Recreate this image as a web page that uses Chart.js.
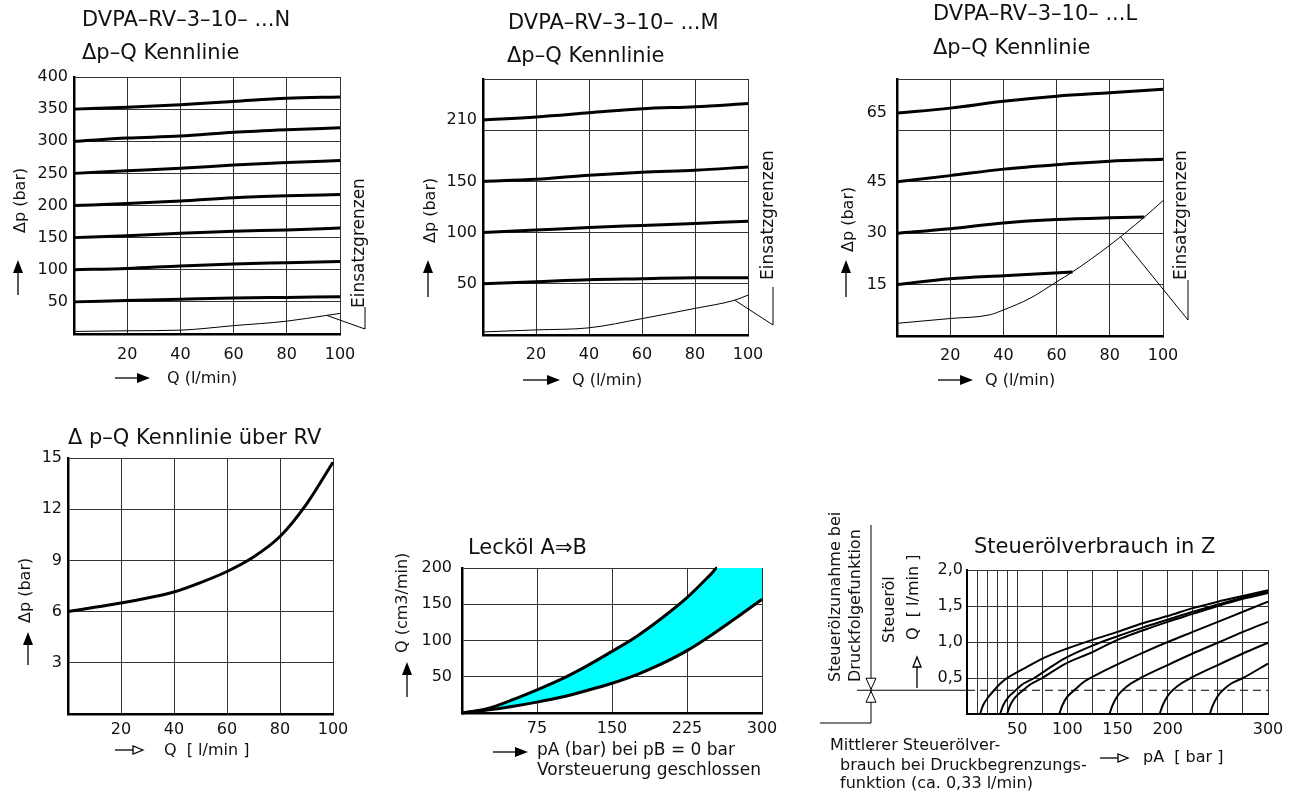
<!DOCTYPE html>
<html>
<head>
<meta charset="utf-8">
<script src="https://cdn.jsdelivr.net/npm/chart.js@4.4.1/dist/chart.umd.min.js"></script>
<style>
  body { margin: 0; width: 1290px; height: 796px; position: relative; overflow: hidden; background: #fff;
         font-family: 'DejaVu Sans', sans-serif; color: #111; }
  canvas { position: absolute; }
  .t { position: absolute; white-space: pre; line-height: 1; z-index: 10; }
  .r { transform-origin: 0 0; transform: rotate(-90deg); }
</style>
</head>
<body>
<canvas id="deko" width="1290" height="796" style="left:0;top:0;z-index:5"></canvas>
<script>
// ---- DVPA-RV-3-10- ...N ----
const qN = [0, 20, 40, 60, 80, 100];
const dpN50 = [50, 52, 54, 56, 57, 58];
const dpN100 = [100, 102, 106, 109, 111, 113];
const dpN150 = [150, 153, 157, 160, 162, 165];
const dpN200 = [200, 203, 207, 212, 215, 217];
const dpN250 = [250, 254, 258, 263, 267, 270];
const dpN300 = [300, 305, 308, 314, 318, 321];
const dpN350 = [350, 353, 357, 362, 367, 369];
const qGrenzeN = [0, 20, 40, 60, 80, 95, 100];
const dpGrenzeN = [4, 5, 6, 13, 20, 29, 32];
const yTicksN = [0, 50, 100, 150, 200, 250, 300, 350, 400];

// ---- DVPA-RV-3-10- ...M ----
const qM = [0, 20, 40, 60, 80, 100];
const dpM50 = [50, 52, 54, 55, 56, 56];
const dpM100 = [100, 102.5, 105, 107, 109, 111];
const dpM150 = [150, 152, 156, 159, 161, 164];
const dpM210 = [210, 213, 217, 221, 223, 226];
const qGrenzeM = [0, 20, 40, 60, 80, 95, 100];
const dpGrenzeM = [3, 5, 7, 16, 26, 34, 39];
const yTicksM = [0, 50, 100, 150, 200, 210, 250];
const yLabelsM = [50, 100, 150, 210];

// ---- DVPA-RV-3-10- ...L ----
const qL = [0, 20, 40, 60, 80, 100];
const dpL65 = [65, 66.5, 68.5, 70, 71, 72];
const dpL45 = [45, 46.8, 48.7, 50, 51, 51.6];
const qL30 = [0, 20, 40, 60, 80, 93];
const dpL30 = [30, 31.3, 33, 34, 34.5, 34.7];
const qL15 = [0, 20, 40, 66];
const dpL15 = [15, 16.7, 17.6, 18.7];
const qGrenzeL = [0, 20, 35, 40, 50, 60, 66, 80, 93, 100];
const dpGrenzeL = [3.7, 5.1, 6.2, 7.6, 11, 15.8, 18.7, 26.5, 34.7, 39.5];
const yTicksL = [0, 15, 30, 45, 60, 65, 75];
const yLabelsL = [15, 30, 45, 65];

// ---- Δp-Q Kennlinie über RV ----
const qRV = [0, 10, 20, 30, 40, 50, 60, 70, 80, 90, 100];
const dpRV = [6, 6.25, 6.5, 6.8, 7.15, 7.7, 8.35, 9.2, 10.4, 12.3, 14.75];
const yTicksRV = [0, 3, 6, 9, 12, 15];

const qTicks = [0, 20, 40, 60, 80, 100];
const qLabels = [20, 40, 60, 80, 100];

// ---- Lecköl A => B ----
const pLeckOben = [0, 25, 50, 75, 100, 125, 150, 175, 200, 225, 250, 255, 300];
const qLeckOben = [0, 6, 18, 32, 47, 65, 85, 106, 131, 159, 193, 200, 200];
const pLeckUnten = [0, 25, 50, 75, 100, 125, 150, 175, 200, 225, 250, 275, 300];
const qLeckUnten = [0, 4, 9, 15, 22, 31, 41, 53, 68, 86, 108, 132, 157];
const pTicksLeck = [0, 75, 150, 225, 300];
const qTicksLeck = [0, 50, 100, 150, 200];

// ---- Steuerölverbrauch in Z ----
const pS1 = [13, 16, 21, 27, 33, 40, 50, 63, 80, 100, 125, 150, 175, 200, 225, 250, 275, 300];
const qS1 = [0, 0.12, 0.23, 0.33, 0.42, 0.5, 0.58, 0.68, 0.80, 0.91, 1.03, 1.14, 1.26, 1.36, 1.47, 1.56, 1.64, 1.72];
const pS2 = [33, 36, 41, 47, 55, 67, 80, 97, 125, 150, 175, 200, 225, 250, 275, 300];
const qS2 = [0, 0.12, 0.23, 0.31, 0.41, 0.5, 0.62, 0.77, 0.95, 1.08, 1.20, 1.31, 1.42, 1.52, 1.62, 1.70];
const pS3 = [40, 43, 48, 55, 63, 75, 97, 125, 150, 175, 200, 225, 250, 275, 300];
const qS3 = [0, 0.12, 0.23, 0.32, 0.41, 0.5, 0.69, 0.86, 1.03, 1.16, 1.28, 1.39, 1.50, 1.60, 1.68];
const pS4 = [92, 95, 100, 107, 115, 123, 150, 175, 200, 225, 250, 275, 300];
const qS4 = [0, 0.12, 0.24, 0.33, 0.43, 0.5, 0.69, 0.85, 1.0, 1.14, 1.28, 1.42, 1.56];
const pS5 = [142, 145, 150, 155, 163, 173, 200, 225, 250, 275, 300];
const qS5 = [0, 0.12, 0.25, 0.33, 0.42, 0.5, 0.68, 0.84, 0.99, 1.14, 1.28];
const pS6 = [192, 195, 200, 205, 213, 223, 250, 275, 300];
const qS6 = [0, 0.12, 0.25, 0.33, 0.42, 0.5, 0.68, 0.84, 0.99];
const pS7 = [242, 245, 250, 255, 263, 275, 300];
const qS7 = [0, 0.12, 0.25, 0.33, 0.42, 0.5, 0.70];
const qMittel = 0.33;
const pTicksS = [0, 10, 20, 30, 40, 50, 75, 100, 125, 150, 175, 200, 225, 250, 275, 300];
const pLabelsS = [50, 100, 150, 200, 300];
const qTicksS = [0, 0.5, 1, 1.5, 2];

Chart.defaults.font.family = "'DejaVu Sans', sans-serif";
Chart.defaults.font.size = 16;
Chart.defaults.color = '#111';

function kurve(xs, ys, breite, extra) {
  return Object.assign({
    data: xs.map((x, i) => ({ x: x, y: ys[i] })),
    borderColor: '#000', borderWidth: breite, pointRadius: 0,
    tension: 0.4, cubicInterpolationMode: 'monotone', fill: false, clip: 6
  }, extra || {});
}

function achse(cfg, istX) {
  return {
    type: 'linear', min: cfg.min, max: cfg.max,
    afterBuildTicks: s => { s.ticks = cfg.ticks.map(v => ({ value: v })); },
    afterFit: s => { if (istX) s.height = 40; else s.width = 60; },
    ticks: {
      autoSkip: false, maxRotation: 0, padding: cfg.pad, color: '#111', font: { size: 16 },
      callback: v => cfg.labels.includes(v) ? (cfg.fmt ? cfg.fmt(v) : String(v)) : ''
    },
    grid: {
      drawTicks: false, lineWidth: 1,
      color: c => (cfg.ohneLinie && c.tick && cfg.ohneLinie.includes(c.tick.value)) ? 'rgba(0,0,0,0)' : '#333'
    },
    border: { color: '#000', width: cfg.rand || 2.5 }
  };
}

// box = Zeichenfläche in Seitenpixeln; Ränder groß genug, damit die Beschriftung nichts verschiebt
const RAND_OBEN = 26, RAND_RECHTS = 36, ACHSE_Y = 60, ACHSE_X = 40;
function diagramm(box, xa, ya, datasets) {
  const padL = box.padL || 0;
  const c = document.createElement('canvas');
  const left = box.l - ACHSE_Y - padL, top = box.t - RAND_OBEN;
  const w = box.r - box.l + ACHSE_Y + padL + RAND_RECHTS, h = box.b - box.t + RAND_OBEN + ACHSE_X;
  c.width = w; c.height = h;
  c.style.left = left + 'px'; c.style.top = top + 'px';
  c.style.width = w + 'px'; c.style.height = h + 'px';
  document.body.appendChild(c);
  return new Chart(c, {
    type: 'line',
    data: { datasets: datasets },
    options: {
      responsive: false, animation: false, events: [],
      layout: { autoPadding: false, padding: { left: padL, top: RAND_OBEN, right: RAND_RECHTS, bottom: 0 } },
      plugins: { legend: { display: false }, tooltip: { enabled: false }, filler: { drawTime: 'beforeDatasetsDraw' } },
      scales: { x: achse(xa, true), y: achse(ya, false) }
    }
  });
}

const achseQ = (pad) => ({ min: 0, max: 100, ticks: qTicks, labels: qLabels, pad: pad });

const chartN = diagramm({ l: 74, t: 77, r: 340, b: 334 }, achseQ(11),
  { min: 0, max: 400, ticks: yTicksN, labels: yTicksN.slice(1), pad: 6 },
  [kurve(qN, dpN50, 3), kurve(qN, dpN100, 3), kurve(qN, dpN150, 3), kurve(qN, dpN200, 3),
   kurve(qN, dpN250, 3), kurve(qN, dpN300, 3), kurve(qN, dpN350, 3), kurve(qGrenzeN, dpGrenzeN, 1)]);

const chartM = diagramm({ l: 483, t: 79, r: 748, b: 335 }, achseQ(10),
  { min: 0, max: 250, ticks: yTicksM, labels: yLabelsM, ohneLinie: [210], pad: 6 },
  [kurve(qM, dpM50, 3), kurve(qM, dpM100, 3), kurve(qM, dpM150, 3), kurve(qM, dpM210, 3),
   kurve(qGrenzeM, dpGrenzeM, 1)]);

const chartL = diagramm({ l: 897, t: 79, r: 1163, b: 336 }, achseQ(10),
  { min: 0, max: 75, ticks: yTicksL, labels: yLabelsL, ohneLinie: [65], pad: 10 },
  [kurve(qL, dpL65, 3), kurve(qL, dpL45, 3), kurve(qL30, dpL30, 3), kurve(qL15, dpL15, 3),
   kurve(qGrenzeL, dpGrenzeL, 1, { tension: 0.3 })]);

const chartRV = diagramm({ l: 68, t: 458, r: 333, b: 714 }, achseQ(6),
  { min: 0, max: 15, ticks: yTicksRV, labels: yTicksRV.slice(1), pad: 6 },
  [kurve(qRV, dpRV, 3)]);

const chartLeck = diagramm({ l: 462, t: 568, r: 762, b: 713 },
  { min: 0, max: 300, ticks: pTicksLeck, labels: pTicksLeck.slice(1), pad: 6 },
  { min: 0, max: 200, ticks: qTicksLeck, labels: qTicksLeck.slice(1), pad: 10 },
  [kurve(pLeckOben, qLeckOben, 3, {
     fill: '+1', backgroundColor: '#00ffff',
     segment: { borderColor: s => s.p0.parsed.x >= 255 ? 'rgba(0,0,0,0)' : '#000' } }),
   kurve(pLeckUnten, qLeckUnten, 3)]);

const komma = v => v.toFixed(1).replace('.', ',');
const chartS = diagramm({ l: 967, t: 570, r: 1268, b: 714, padL: 100 },
  { min: 0, max: 300, ticks: pTicksS, labels: pLabelsS, pad: 6, rand: 2 },
  { min: 0, max: 2, ticks: qTicksS, labels: qTicksS.slice(1), fmt: komma, pad: 4, rand: 2 },
  [kurve(pS1, qS1, 2), kurve(pS2, qS2, 2), kurve(pS3, qS3, 2), kurve(pS4, qS4, 2),
   kurve(pS5, qS5, 2), kurve(pS6, qS6, 2), kurve(pS7, qS7, 2),
   kurve([0, 300], [qMittel, qMittel], 1.2, { borderDash: [8, 5], tension: 0 })]);

// ---- Texte ----
function txt(s, x, yc, size, rot) {
  const d = document.createElement('div');
  d.className = 't' + (rot ? ' r' : '');
  d.textContent = s;
  d.style.fontSize = size + 'px';
  if (rot) { d.style.left = (x - 0.48 * size) + 'px'; d.style.top = yc + 'px'; }
  else { d.style.left = x + 'px'; d.style.top = (yc - 0.48 * size) + 'px'; }
  document.body.appendChild(d);
}
txt('DVPA–RV–3–10– ...N', 82, 19, 21);
txt('Δp–Q Kennlinie', 82, 52, 21);
txt('Q (l/min)', 167, 378, 16);
txt('Δp (bar)', 20, 233, 16, true);
txt('Einsatzgrenzen', 358, 308, 17, true);

txt('DVPA–RV–3–10– ...M', 508, 22, 21);
txt('Δp–Q Kennlinie', 507, 55, 21);
txt('Q (l/min)', 572, 380, 16);
txt('Δp (bar)', 430, 243, 16, true);
txt('Einsatzgrenzen', 767, 280, 17, true);

txt('DVPA–RV–3–10– ...L', 933, 13, 21);
txt('Δp–Q Kennlinie', 933, 47, 21);
txt('Q (l/min)', 985, 380, 16);
txt('Δp (bar)', 848, 252, 16, true);
txt('Einsatzgrenzen', 1180, 280, 17, true);

txt('Δ p–Q Kennlinie über RV', 68, 437, 21);
txt('Q  [ l/min ]', 164, 750, 16);
txt('Δp (bar)', 25, 623, 16, true);

txt('Lecköl A⇒B', 468, 547, 21);
txt('pA (bar) bei pB = 0 bar', 537, 749, 17);
txt('Vorsteuerung geschlossen', 537, 769, 17);
txt('Q (cm3/min)', 402, 653, 16, true);

txt('Steuerölverbrauch in Z', 974, 546, 21);
txt('Steueröl', 889, 643, 16, true);
txt('Q  [ l/min ]', 913, 640, 16, true);
txt('Steuerölzunahme bei', 835, 682, 16, true);
txt('Druckfolgefunktion', 855, 682, 16, true);
txt('Mittlerer Steuerölver-', 830, 745, 16);
txt('brauch bei Druckbegrenzungs-', 840, 765, 16);
txt('funktion (ca. 0,33 l/min)', 840, 783, 16);
txt('pA  [ bar ]', 1143, 757, 16);

// ---- Pfeile und Hinweislinien ----
const g = document.getElementById('deko').getContext('2d');
g.strokeStyle = '#000'; g.fillStyle = '#000'; g.lineWidth = 1.3;

function linie(pts) {
  g.beginPath(); g.moveTo(pts[0][0], pts[0][1]);
  pts.slice(1).forEach(p => g.lineTo(p[0], p[1]));
  g.stroke();
}
function dreieck(a, b, c, hohl) {
  g.beginPath(); g.moveTo(a[0], a[1]); g.lineTo(b[0], b[1]); g.lineTo(c[0], c[1]); g.closePath();
  if (hohl) { g.fillStyle = '#fff'; g.fill(); g.stroke(); g.fillStyle = '#000'; } else g.fill();
}
function pfeilHoch(x, y0, y1, hohl) {
  const L = hohl ? 10 : 13, B = hohl ? 4 : 5;
  linie([[x, y0], [x, y1 + L]]);
  dreieck([x, y1], [x - B, y1 + L], [x + B, y1 + L], hohl);
}
function pfeilRechts(x0, x1, y, hohl) {
  const L = hohl ? 10 : 13, B = hohl ? 4 : 5;
  linie([[x0, y], [x1 - L, y]]);
  dreieck([x1, y], [x1 - L, y - B], [x1 - L, y + B], hohl);
}
pfeilHoch(18, 295, 260); pfeilRechts(115, 150, 378);
pfeilHoch(428, 297, 260); pfeilRechts(523, 560, 380);
pfeilHoch(846, 297, 260); pfeilRechts(938, 973, 380);
pfeilHoch(28, 665, 632); pfeilRechts(115, 143, 750, true);
pfeilHoch(407, 697, 662); pfeilRechts(493, 528, 752);
pfeilHoch(917, 688, 657, true); pfeilRechts(1100, 1128, 758, true);

function seitenPunkt(ch, x, y) {
  return [ch.canvas.offsetLeft + ch.scales.x.getPixelForValue(x),
          ch.canvas.offsetTop + ch.scales.y.getPixelForValue(y)];
}
function interp(xs, ys, x) {
  for (let i = 1; i < xs.length; i++) {
    if (x <= xs[i]) return ys[i - 1] + (ys[i] - ys[i - 1]) * (x - xs[i - 1]) / (xs[i] - xs[i - 1]);
  }
  return ys[ys.length - 1];
}
g.lineWidth = 1;
linie([seitenPunkt(chartN, 95, interp(qGrenzeN, dpGrenzeN, 95)), [365, 329], [365, 307]]);
linie([seitenPunkt(chartM, 95, interp(qGrenzeM, dpGrenzeM, 95)), [773, 325], [773, 287]]);
linie([seitenPunkt(chartL, 84, interp(qGrenzeL, dpGrenzeL, 84)), [1188, 320], [1188, 280]]);

// Steuerölverbrauch: Markierung links
const yMittel = seitenPunkt(chartS, 0, qMittel)[1];
linie([[871, 525], [871, 723], [820, 723]]);
linie([[857, yMittel], [chartS.canvas.offsetLeft + chartS.chartArea.left, yMittel]]);
dreieck([871, yMittel - 1], [866, yMittel - 12], [876, yMittel - 12], true);
dreieck([871, yMittel + 1], [866, yMittel + 12], [876, yMittel + 12], true);
</script>
</body>
</html>
